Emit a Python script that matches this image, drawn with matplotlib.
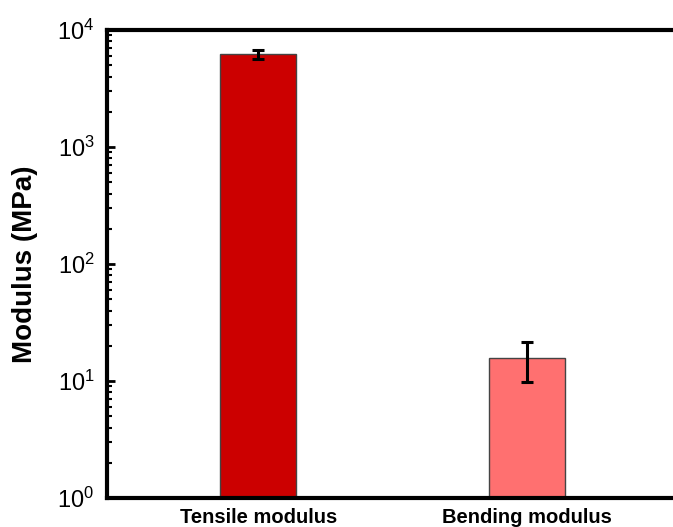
import matplotlib
matplotlib.use("Agg")
import matplotlib.pyplot as plt
from matplotlib.ticker import LogLocator, NullFormatter, FixedLocator

plt.rcParams['font.family'] = ['Liberation Sans', 'DejaVu Sans']
plt.rcParams['mathtext.fontset'] = 'custom'
plt.rcParams['mathtext.rm'] = 'Liberation Sans'
plt.rcParams['mathtext.it'] = 'Liberation Sans:italic'
plt.rcParams['mathtext.bf'] = 'Liberation Sans:bold'

categories = ["Tensile modulus", "Bending modulus"]
values = [6200, 15.6]
errors = [600, 5.8]
colors = ["#CC0000", "#FF7070"]
yticks = [1, 10, 100, 1000, 10000]
ytick_labels = [r"$10^{0}$", r"$10^{1}$", r"$10^{2}$", r"$10^{3}$", r"$10^{4}$"]

fig = plt.figure(figsize=(6.73, 5.27), dpi=100)
ax = fig.add_axes([107/673, 29/527, (678-107)/673, (498-30)/527])

x = list(range(len(categories)))
ax.bar(x, values, width=0.284, color=colors, edgecolor="#444444", linewidth=1.0,
       yerr=errors, error_kw=dict(ecolor="black", elinewidth=2.2, capsize=4, capthick=2.2),
       zorder=2)

ax.set_yscale("log")
ax.set_ylim(1, 10000)
ax.set_xlim(-0.5625, 1.5625)
ax.yaxis.set_major_locator(FixedLocator(yticks))
ax.set_yticklabels(ytick_labels)
ax.yaxis.set_minor_locator(LogLocator(base=10, subs=range(2, 10)))
ax.yaxis.set_minor_formatter(NullFormatter())

ax.set_xticks(x)
ax.set_xticklabels(categories, fontsize=14.5, fontweight="bold")
ax.tick_params(axis="x", length=0, pad=7)
ax.tick_params(axis="y", which="major", direction="in", length=6, width=2, labelsize=17, pad=9)
ax.tick_params(axis="y", which="minor", direction="in", length=3.5, width=1.5)

for s in ["left", "bottom", "top"]:
    ax.spines[s].set_linewidth(3)
ax.spines["right"].set_visible(False)

ax.set_ylabel("Modulus (MPa)", fontsize=20, fontweight="bold")
ax.yaxis.set_label_coords(-0.12, 0.5)

fig.savefig("out.png", dpi=100)
